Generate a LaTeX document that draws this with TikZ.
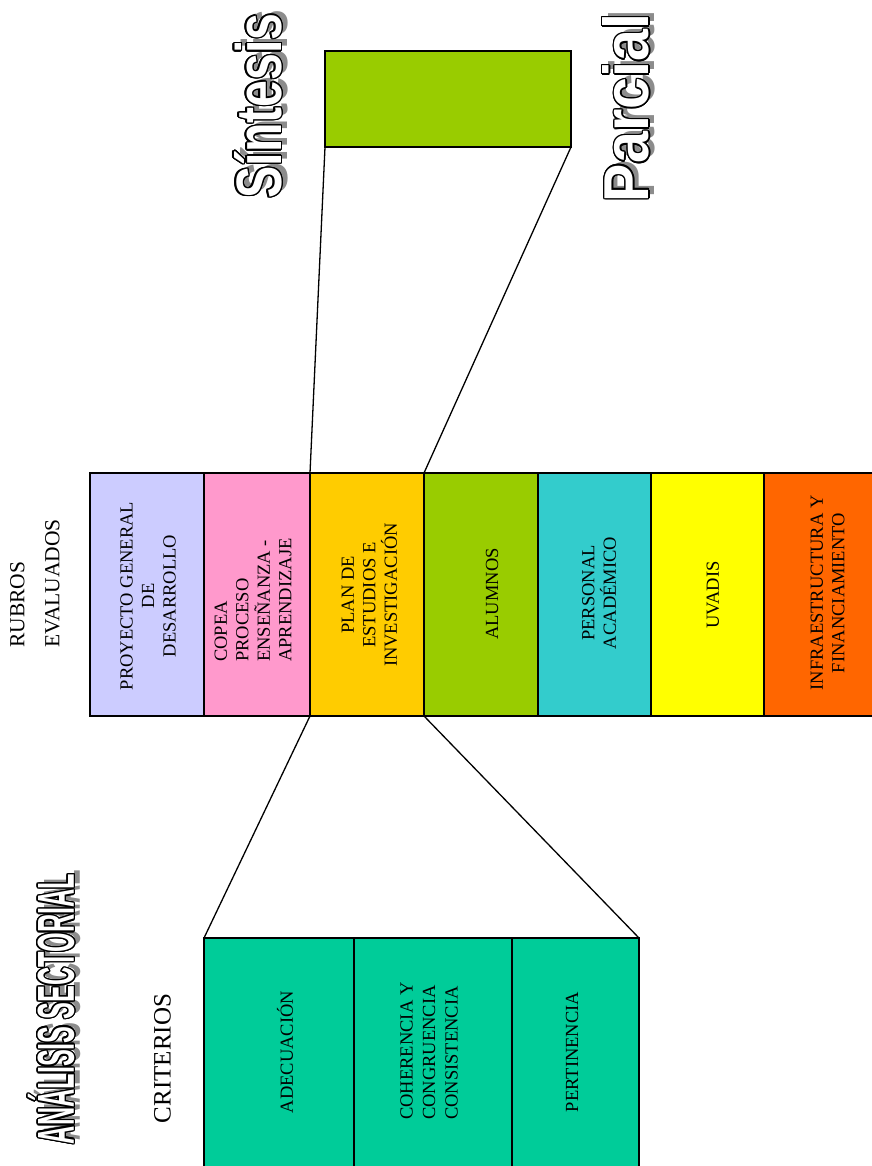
\documentclass[tikz,border=0pt]{standalone}
\usepackage{fontspec}
\setmainfont{Liberation Serif}
\newfontfamily\artfont{Liberation Sans}
\usetikzlibrary{calc}

\definecolor{cPGD}{HTML}{CCCCFF}
\definecolor{cCopea}{HTML}{FF99CC}
\definecolor{cPlan}{HTML}{FFCC00}
\definecolor{cAlum}{HTML}{99CC00}
\definecolor{cPers}{HTML}{33CCCC}
\definecolor{cUvadis}{HTML}{FFFF00}
\definecolor{cInfra}{HTML}{FF6600}
\definecolor{cCrit}{HTML}{00CC99}
\definecolor{cShadow}{HTML}{8C8C8C}

\tikzset{
  cell/.style={draw=black, line width=1.6pt, inner sep=0pt, outer sep=0pt},
  link/.style={draw=black, line width=1.3pt},
  lbl/.style={rotate=90, inner sep=0pt, align=center,
              font=\fontsize{18.5}{21.5}\selectfont},
  head/.style={rotate=90, inner sep=0pt, align=left},
  artshadow/.style={rotate=90, inner sep=0pt, text=cShadow},
  artedge/.style={rotate=90, inner sep=0pt, text=black},
  artface/.style={rotate=90, inner sep=0pt, text=white},
}

% outlined display lettering with a drop shadow, set along the page height
% #1 name, #2 centre, #3 length, #4 height, #5 text
\newcommand\wordart[5]{%
  \node[artshadow] at ($#2+(6,-4)$) {\resizebox{#3}{#4}{\artfont\bfseries #5}};
  \foreach \a in {0,22.5,...,337.5}
    \node[artedge] at ($#2+(\a:1.4)$) {\resizebox{#3}{#4}{\artfont\bfseries #5}};
  \node[artface] (#1) at #2 {\resizebox{#3}{#4}{\artfont\bfseries #5}};
}

\begin{document}
\begin{tikzpicture}[x=1pt, y=-1pt]
  \useasboundingbox (0,0) rectangle (871,1166);

  % summary box at the top
  \node[cell, fill=cAlum, minimum width=246pt, minimum height=96pt] (top) at (448,99) {};

  % evaluated items
  \node[cell, fill=cPGD,    minimum width=114pt, minimum height=243pt] (pgd)    at (147,594.5) {};
  \node[cell, fill=cCopea,  minimum width=106pt, minimum height=243pt] (copea)  at (257,594.5) {};
  \node[cell, fill=cPlan,   minimum width=114pt, minimum height=243pt] (plan)   at (367,594.5) {};
  \node[cell, fill=cAlum,   minimum width=114pt, minimum height=243pt] (alum)   at (481,594.5) {};
  \node[cell, fill=cPers,   minimum width=113pt, minimum height=243pt] (pers)   at (594.5,594.5) {};
  \node[cell, fill=cUvadis, minimum width=113pt, minimum height=243pt] (uvadis) at (707.5,594.5) {};
  \node[cell, fill=cInfra,  minimum width=126pt, minimum height=243pt] (infra)  at (827,594.5) {};

  % criteria
  \node[cell, fill=cCrit, minimum width=150pt, minimum height=232pt] (ade)  at (279,1054) {};
  \node[cell, fill=cCrit, minimum width=158pt, minimum height=232pt] (coh)  at (433,1054) {};
  \node[cell, fill=cCrit, minimum width=127pt, minimum height=232pt] (pert) at (575.5,1054) {};

  % zoom connectors
  \draw[link] (top.south west) -- (plan.north west);
  \draw[link] (top.south east) -- (plan.north east);
  \draw[link] (plan.south west) -- (ade.north west);
  \draw[link] (plan.south east) -- (pert.north east);

  % item labels
  \node[lbl] (tPgd) at (148,596) {PROYECTO GENERAL\\DE\\DESARROLLO};
  \node[lbl, align=left, anchor=west] (tCopea) at (253,662) {COPEA\\PROCESO\\ENSEÑANZA -\\APRENDIZAJE};
  \node[lbl] (tPlan) at (369.5,595) {PLAN DE\\ESTUDIOS E\\INVESTIGACIÓN};
  \node[lbl] (tAlum) at (492,594) {ALUMNOS};
  \node[lbl] (tPers) at (599,593) {PERSONAL\\ACADÉMICO};
  \node[lbl] (tUvadis) at (713,595) {UVADIS};
  \node[lbl] (tInfra) at (827.5,593) {INFRAESTRUCTURA Y\\FINANCIAMIENTO};

  % criteria labels
  \node[lbl] (tAde) at (285,1052) {ADECUACIÓN};
  \node[lbl, align=left, anchor=west, font=\fontsize{18.5}{22.5}\selectfont] (tCoh) at (429,1120) {COHERENCIA Y\\CONGRUENCIA\\CONSISTENCIA};
  \node[lbl] (tPert) at (572,1052) {PERTINENCIA};

  % headings
  \node[head, anchor=west, font=\fontsize{21.5}{35}\selectfont] (rubros) at (35,648) {RUBROS\\EVALUADOS};
  \node[head, font=\fontsize{25}{30}\selectfont] (criterios) at (162.5,1058.5) {CRITERIOS};

  % display titles
  \wordart{sintesis}{(258,106)}{185pt}{47pt}{Síntesis}
  \wordart{parcial}{(626,108)}{188pt}{46pt}{Parcial}
  \wordart{analisis}{(51,1009)}{270pt}{46pt}{ANÁLISIS SECTORIAL}
\end{tikzpicture}
\end{document}
